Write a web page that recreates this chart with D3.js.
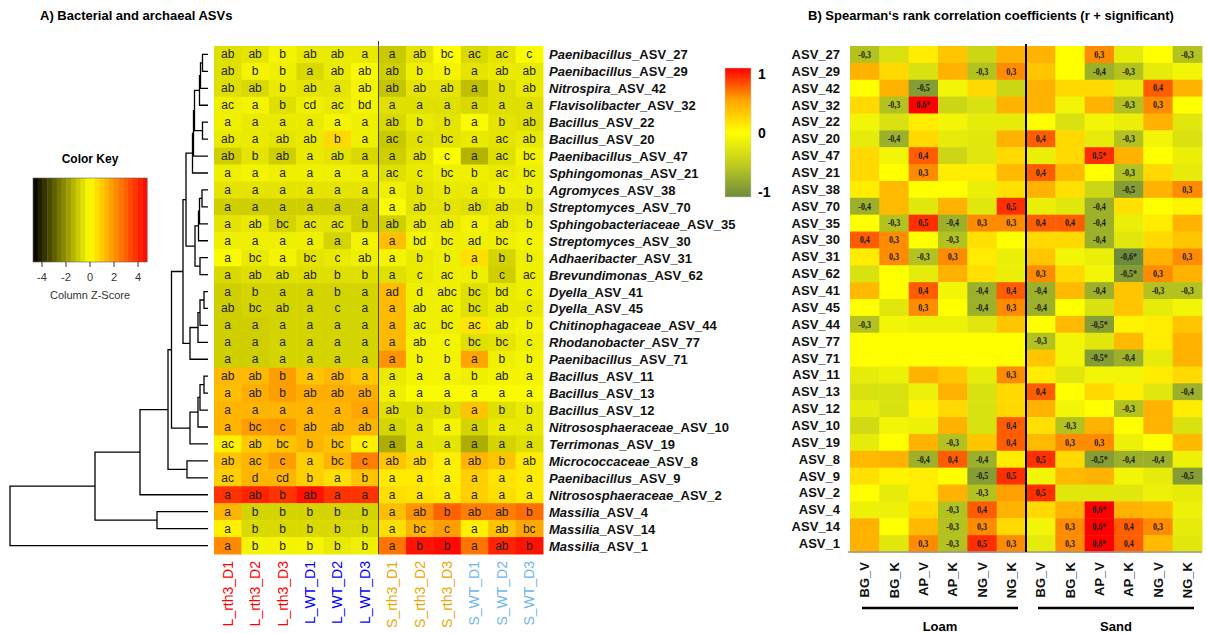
<!DOCTYPE html>
<html>
<head>
<meta charset="utf-8">
<script src="https://cdn.jsdelivr.net/npm/d3@7"></script>
<style>
  body { margin: 0; background: #fff; }
  text { font-family: "Liberation Sans", Arial, sans-serif; }
</style>
</head>
<body>
<div id="chart"></div>
<script>
const W = 1207, H = 633;

// ---- data ----
const genus = ["Paenibacillus","Paenibacillus","Nitrospira","Flavisolibacter","Bacillus","Bacillus","Paenibacillus","Sphingomonas","Agromyces","Streptomyces","Sphingobacteriaceae","Streptomyces","Adhaeribacter","Brevundimonas","Dyella","Dyella","Chitinophagaceae","Rhodanobacter","Paenibacillus","Bacillus","Bacillus","Bacillus","Nitrososphaeraceae","Terrimonas","Micrococcaceae","Paenibacillus","Nitrososphaeraceae","Massilia","Massilia","Massilia"];
const asv = ["ASV_27","ASV_29","ASV_42","ASV_32","ASV_22","ASV_20","ASV_47","ASV_21","ASV_38","ASV_70","ASV_35","ASV_30","ASV_31","ASV_62","ASV_41","ASV_45","ASV_44","ASV_77","ASV_71","ASV_11","ASV_13","ASV_12","ASV_10","ASV_19","ASV_8","ASV_9","ASV_2","ASV_4","ASV_14","ASV_1"];

const samples = ["L_rth3_D1","L_rth3_D2","L_rth3_D3","L_WT_D1","L_WT_D2","L_WT_D3","S_rth3_D1","S_rth3_D2","S_rth3_D3","S_WT_D1","S_WT_D2","S_WT_D3"];
const sampleGroup = ["Lr","Lr","Lr","Lw","Lw","Lw","Sr","Sr","Sr","Sw","Sw","Sw"];
const groupColor = {Lr: "#ff0000", Lw: "#0000ff", Sr: "#e8a800", Sw: "#6fb7ea"};

// column z-scores (left heatmap)
const zScores = [
 [-0.6,-0.5,-0.2,-0.4,-0.4,-0.4, -1.0,-0.5,0.0,-0.7,-0.5,-0.1],
 [-0.6,-0.2,-0.3,-0.7,-0.4,-0.1, -0.9,-0.3,-0.2,-0.5,-0.4,-0.4],
 [-0.6,-0.7,-0.4,-0.5,-0.5,-0.2, -1.1,-0.5,-0.5,-1.2,-0.6,-0.4],
 [-0.3,-0.2,-0.6,-0.3,-0.4,-0.2, -0.6,-0.6,-0.6,-0.7,-0.6,-0.6],
 [-0.3,-0.4,-0.4,-0.4,-0.2,-0.3, -0.7,-0.4,-0.5,-0.1,-0.5,-0.6],
 [-0.4,-0.4,-0.5,-0.4,0.7,-0.3, -1.0,-0.6,-0.5,-0.4,-0.5,-0.4],
 [-0.9,-0.5,-0.9,-0.4,-0.5,-0.7, -0.9,-0.5,-0.1,-1.4,-0.6,-0.2],
 [-0.3,-0.2,-0.3,-0.3,-0.3,-0.3, -0.6,-0.4,-0.3,-0.3,-0.4,-0.3],
 [-0.5,-0.5,-0.5,-0.5,-0.5,-0.5, -0.3,-0.5,-0.4,-0.4,-0.3,-0.3],
 [-0.9,-0.9,-0.9,-0.9,-0.9,-0.9, -0.1,-0.5,-0.5,-0.6,-0.5,-0.5],
 [-0.5,-0.4,-0.8,-0.5,-0.5,-0.9, -0.9,-0.4,-0.4,-0.2,-0.4,-0.3],
 [-0.3,-0.3,-0.3,-0.3,-0.8,-0.2, 1.2,-0.2,-0.3,-0.3,-0.3,-0.2],
 [-0.1,-0.4,-0.2,-0.5,-0.4,-0.3, -0.2,-0.4,-0.3,0.6,-0.8,-0.3],
 [-0.7,-0.6,-0.6,-0.6,-0.6,-0.6, -0.6,-0.4,-0.3,-0.3,-0.9,-0.3],
 [-0.9,-0.8,-0.8,-0.8,-0.8,-0.8, 1.3,-0.3,-0.3,-0.6,-0.4,-0.3],
 [-0.9,-0.8,-0.8,-0.8,-0.8,-0.8, 1.3,-0.3,-0.3,-0.6,-0.4,-0.4],
 [-0.9,-0.9,-0.8,-0.8,-0.8,-0.8, 1.3,-0.3,-0.3,0.5,-0.3,-0.2],
 [-0.9,-0.9,-0.8,-0.8,-0.8,-0.8, 1.3,-0.2,-0.2,-0.6,-0.5,-0.3],
 [-0.9,-0.9,-0.8,-0.8,-0.8,-0.8, 2.0,-0.2,-0.2,1.7,-0.3,-0.2],
 [1.3,1.3,1.8,1.1,1.3,1.0, -0.4,-0.2,-0.2,-0.3,-0.2,-0.2],
 [1.2,1.5,1.8,1.5,1.5,1.5, -0.3,-0.1,-0.1,-0.1,-0.1,-0.1],
 [1.4,1.4,1.4,1.4,1.4,1.7, -0.6,-0.6,-0.6,1.1,-0.6,-0.4],
 [1.4,1.8,1.9,1.4,1.4,1.4, -0.8,-0.5,-0.2,-0.8,-0.4,-0.4],
 [0.3,1.0,1.1,1.4,1.1,0.3, -1.5,-0.5,-0.5,-1.5,-0.8,-0.6],
 [1.1,1.4,1.8,0.9,1.4,2.4, 1.1,0.7,0.3,1.4,1.1,0.4],
 [0.9,1.4,1.4,0.9,0.6,1.1, 0.4,0.4,0.3,0.9,0.5,0.4],
 [3.8,4.1,3.8,4.4,3.8,3.8, 0.6,0.5,0.4,0.9,0.6,0.4],
 [1.4,-0.8,-0.8,-0.8,-0.8,-0.8, 1.2,2.0,2.9,2.4,2.4,2.7],
 [0.3,-0.7,-0.7,-0.7,-0.7,-0.7, 0.6,1.4,1.8,0.3,1.1,1.6],
 [2.2,-0.2,-0.2,-0.2,-0.4,-0.3, 2.6,4.4,4.6,2.6,4.1,4.4]
];

// significance letters (left heatmap)
const letters = [
 "ab ab b ab ab a a ab bc ac ac c",
 "ab b b a ab ab ab b b a ab ab",
 "ab ab b ab a ab ab ab ab a b ab",
 "ac a b cd ac bd a a a a a a",
 "a a a a a a ab b b a b ab",
 "ab a ab ab b a ac c bc a ac ab",
 "ab b ab a ab a a ab c a ac bc",
 "a a a a a a ac c bc b ac bc",
 "a a a a a a a b b a b b",
 "a a a a a a a ab b ab ab b",
 "a ab bc ac ac b ab ab ab a ab b",
 "a a a a a a a bd bc ad bc c",
 "a bc a bc c ab a b b a b b",
 "a ab ab ab b b a c ac b c ac",
 "a b a a b a ad d abc bc bd c",
 "ab bc ab a c a a ab ac bc ab c",
 "a a a a a a a ac bc ac ab b",
 "a a a a a a a ab c bc bc c",
 "a a a a a a a b b a b b",
 "ab ab b a ab a a a a b ab a",
 "a ab b ab ab ab a a a a a a",
 "a a a a a a ab b b a b b",
 "a bc c ab ab ab a a a a a a",
 "ac ab bc b bc c a a a a a a",
 "ab ac c a bc c ab ab a ab b ab",
 "ac d cd b a b a a a a a a",
 "a ab b ab a a a a a a a a",
 "a b b b b b a ab b ab ab b",
 "a b b b b b a bc c a ab bc",
 "a b b b b b a b b a ab b"
].map(s => s.split(" "));

// Spearman r (right heatmap)
const treatments = ["BG_V","BG_K","AP_V","AP_K","NG_V","NG_K","BG_V","BG_K","AP_V","AP_K","NG_V","NG_K"];
const soils = ["Loam","Sand"];
const rho = [
 [-0.3,-0.15,0.05,0.15,-0.2,0.2, 0.2,0,0.3,-0.1,0,-0.3],
 [0.2,0.1,-0.15,0.2,-0.3,0.3, 0.15,0,-0.4,-0.3,-0.1,-0.05],
 [0,0.2,-0.5,-0.05,0.1,-0.2, 0.2,0.1,0.1,-0.1,0.4,0.2],
 [0.1,-0.3,0.6,-0.2,-0.15,0.2, 0.2,-0.05,0.2,-0.3,0.3,0],
 [-0.05,-0.15,0.05,-0.05,-0.1,-0.1, 0,-0.15,-0.05,-0.08,0.2,-0.12],
 [-0.1,-0.4,0.1,-0.1,-0.12,0.2, 0.4,0.1,-0.1,-0.3,-0.05,-0.15],
 [0.1,-0.05,0.4,-0.2,-0.12,0.1, -0.08,0.1,0.5,0.2,0,-0.08],
 [0.1,0,0.3,0.05,0.05,0.18, 0.4,0.18,0,-0.3,0.1,-0.1],
 [0.05,0.18,0,0,-0.08,0.08, 0.2,0.08,-0.2,-0.5,0.2,0.3],
 [-0.4,0.18,-0.12,0.2,-0.12,0.5, -0.08,-0.12,-0.4,0.08,0,0.03],
 [0,-0.3,0.5,-0.4,0.3,0.3, 0.4,0.4,-0.4,-0.08,0.05,0.2],
 [0.4,0.3,0,-0.3,0.08,0, 0.1,0.1,-0.4,-0.12,0.1,0.15],
 [0.05,0.3,-0.3,0.3,0.05,-0.08, 0.15,-0.05,-0.08,-0.6,0.2,0.3],
 [-0.15,0,-0.1,0.2,0.08,-0.08, 0.3,0.1,-0.05,-0.5,0.3,0.2],
 [0.18,0,0.4,-0.05,-0.4,0.4, -0.4,0.18,-0.4,0.15,-0.3,-0.3],
 [0,-0.12,0.3,0,-0.4,0.3, -0.4,0,-0.15,0.15,-0.1,-0.05],
 [-0.3,-0.05,-0.07,-0.07,-0.12,0.15, 0,0.18,-0.5,0.03,0.05,0.15],
 [0,0,0,0,0,0, -0.3,-0.05,-0.12,0.18,0.05,0.2],
 [0,0,0,0,0,0, 0.15,-0.05,-0.5,-0.4,-0.1,0.2],
 [-0.1,-0.07,0.2,0.15,-0.1,0.3, 0.05,-0.12,-0.05,-0.05,0.05,0.1],
 [-0.15,-0.15,-0.07,0.2,-0.15,0.1, 0.4,0,0.1,0.04,-0.12,-0.4],
 [-0.1,-0.15,0.03,0.1,-0.15,0.1, 0.2,-0.05,0,-0.3,0.2,0.05],
 [-0.18,-0.05,-0.07,0.2,-0.15,0.4, 0.08,-0.3,0.2,0,0.2,-0.15],
 [-0.1,0,0.2,-0.3,0.15,0.4, 0.18,0.3,0.3,-0.07,0,0.18],
 [0.18,0.2,-0.4,0.4,-0.4,0.05, 0.5,0.1,-0.5,-0.4,-0.4,-0.07],
 [0.08,0.03,0.05,0,-0.5,0.5, -0.05,0.18,0.2,-0.05,-0.1,-0.5],
 [0,-0.1,0.05,0.2,-0.3,0.25, 0.5,-0.12,-0.12,-0.12,-0.07,-0.1],
 [-0.07,-0.07,0.1,-0.3,0.4,0.2, 0.1,0.2,0.6,0.2,0.18,-0.07],
 [0.2,0,0.18,-0.3,0.3,0.1, -0.05,0.3,0.6,0.4,0.3,-0.1],
 [0.2,-0.12,0.3,-0.3,0.5,0.3, -0.1,0.3,0.6,0.4,0.18,-0.12]
];
// significant cells (row, column)
const sigCells = ["3,2","6,8","12,9","13,9","16,8","18,8","24,8","27,8","28,8","29,8"];

const keyTicks = [-4, -2, 0, 2, 4];
const rhoTicks = [-1, 0, 1];

// row dendrogram: leaves are row indices, h = merge height
const L = i => ({leaf: i});
const M = (a, b, h) => ({children: [a, b], h: h});
const A1 = M(M(M(M(M(M(L(0), L(1), 5.5), L(2), 7.5), L(3), 8.5), M(L(4), L(5), 5.5), 13.5), L(6), 14.5), L(7), 15.5);
const A2 = M(M(M(M(L(8), L(9), 6), L(10), 8.5), L(11), 9.5), M(L(12), L(13), 8), 13);
const B  = M(M(M(M(L(14), L(15), 4), L(16), 8), L(17), 10), L(18), 18);
const C  = M(M(M(M(L(19), L(20), 4), L(21), 8), L(22), 10), L(23), 18);
const tree = M(M(M(M(M(M(M(A1, A2, 22), B, 25), C, 36.5), M(L(24), L(25), 21), 40), L(26), 68), M(L(27), L(28), 51), 113), L(29), 198);

// ---- svg ----
const svg = d3.select("#chart").append("svg").attr("width", W).attr("height", H);

svg.append("text").attr("x", 40).attr("y", 20)
  .attr("font-size", "13px").attr("font-weight", "bold")
  .text("A) Bacterial and archaeal ASVs");
svg.append("text").attr("x", 808).attr("y", 20)
  .attr("font-size", "13px").attr("font-weight", "bold")
  .text("B) Spearman\u2018s rank correlation coefficients (r + significant)");

// ---- left heatmap ----
const zColor = d3.scaleLinear().domain([-4.75, 0, 4.75]).range(["#000000", "#ffff00", "#ff0000"]).clamp(true);
const xL = d3.scaleBand().domain(d3.range(12)).range([214, 543]);
const yL = d3.scaleBand().domain(d3.range(30)).range([46, 554]);

const cellsL = [];
zScores.forEach((row, i) => row.forEach((v, j) => cellsL.push({i, j, v, t: letters[i][j]})));

const gL = svg.append("g");
gL.selectAll("rect").data(cellsL).enter().append("rect")
  .attr("x", d => xL(d.j)).attr("y", d => yL(d.i))
  .attr("width", xL.bandwidth() + 0.5).attr("height", yL.bandwidth() + 0.5)
  .attr("fill", d => zColor(d.v));
gL.selectAll("text").data(cellsL).enter().append("text")
  .attr("x", d => xL(d.j) + xL.bandwidth() / 2)
  .attr("y", d => yL(d.i) + yL.bandwidth() / 2)
  .attr("text-anchor", "middle").attr("dominant-baseline", "central")
  .attr("font-size", "12px").attr("fill", "#222")
  .text(d => d.t);

gL.append("line")
  .attr("x1", xL(6)).attr("x2", xL(6)).attr("y1", 41).attr("y2", 554)
  .attr("stroke", "#444").attr("stroke-width", 1);

// row labels
const rowLab = svg.append("g").selectAll("text").data(genus).enter().append("text")
  .attr("x", 549).attr("y", (d, i) => yL(i) + yL.bandwidth() / 2)
  .attr("dominant-baseline", "central")
  .attr("font-size", "13px").attr("font-weight", "bold").attr("fill", "#111");
rowLab.append("tspan").attr("font-style", "italic").text(d => d);
rowLab.append("tspan").text((d, i) => "_" + asv[i]);

// column labels
svg.append("g").selectAll("text").data(samples).enter().append("text")
  .attr("transform", (d, j) => `translate(${xL(j) + xL.bandwidth() / 2},561) rotate(-90)`)
  .attr("text-anchor", "end").attr("dominant-baseline", "central")
  .attr("font-size", "14px")
  .attr("fill", (d, j) => groupColor[sampleGroup[j]])
  .text(d => d);

// ---- dendrogram ----
const dx = d3.scaleLinear().domain([0, 198]).range([208, 10]);
const dg = svg.append("g").attr("stroke", "#000").attr("stroke-width", 1.3).attr("fill", "none");
function nodeY(n) {
  if (n.leaf !== undefined) return yL(n.leaf) + yL.bandwidth() / 2;
  if (n.y === undefined) n.y = (nodeY(n.children[0]) + nodeY(n.children[1])) / 2;
  return n.y;
}
function nodeX(n) { return n.leaf !== undefined ? dx(0) : dx(n.h); }
function drawNode(n) {
  if (n.leaf !== undefined) return;
  const [a, b] = n.children;
  const x = dx(n.h);
  dg.append("path").attr("d",
    `M${nodeX(a)},${nodeY(a)}H${x}V${nodeY(b)}H${nodeX(b)}`);
  drawNode(a); drawNode(b);
}
drawNode(tree);

// ---- color key (left) ----
const keyX = d3.scaleLinear().domain([-4.75, 4.75]).range([33, 147]);
const key = svg.append("g");
const bands = d3.range(24).map(k => -4.75 + k * 9.5 / 24);
key.selectAll("rect").data(bands).enter().append("rect")
  .attr("x", d => keyX(d)).attr("y", 178)
  .attr("width", keyX(9.5 / 24) - keyX(0) + 0.4).attr("height", 84)
  .attr("fill", d => zColor(d + 9.5 / 48));
key.append("rect").attr("x", 33).attr("y", 178).attr("width", 114).attr("height", 84)
  .attr("fill", "none").attr("stroke", "#666").attr("stroke-width", 0.6);
key.append("text").attr("x", 90).attr("y", 163).attr("text-anchor", "middle")
  .attr("font-size", "12px").attr("font-weight", "bold").text("Color Key");
key.selectAll("line.t").data(keyTicks).enter().append("line")
  .attr("x1", d => keyX(d)).attr("x2", d => keyX(d)).attr("y1", 262).attr("y2", 267)
  .attr("stroke", "#333");
key.selectAll("text.t").data(keyTicks).enter().append("text")
  .attr("x", d => keyX(d)).attr("y", 281).attr("text-anchor", "middle")
  .attr("font-size", "11px").attr("fill", "#333").text(d => d);
key.append("text").attr("x", 90).attr("y", 299).attr("text-anchor", "middle")
  .attr("font-size", "11px").attr("fill", "#333").text("Column Z-Score");

// ---- right heatmap ----
const rColor = d3.scaleLinear().domain([-0.6, -0.3, 0, 0.3, 0.6])
  .range(["#6e8b3d", "#b3c21f", "#ffff00", "#ff8c00", "#ff0000"]).clamp(true);
const xR = d3.scaleBand().domain(d3.range(12)).range([850, 1202]);
const yR = d3.scaleBand().domain(d3.range(30)).range([46, 552]);

const cellsR = [];
rho.forEach((row, i) => row.forEach((v, j) => cellsR.push({i, j, v, s: sigCells.includes(i + "," + j)})));

const gR = svg.append("g");
gR.selectAll("rect").data(cellsR).enter().append("rect")
  .attr("x", d => xR(d.j)).attr("y", d => yR(d.i))
  .attr("width", xR.bandwidth() + 0.5).attr("height", yR.bandwidth() + 0.5)
  .attr("fill", d => rColor(d.v));
gR.selectAll("text").data(cellsR.filter(d => Math.abs(d.v) >= 0.3)).enter().append("text")
  .attr("transform", d => `translate(${xR(d.j) + xR.bandwidth() / 2},${yR(d.i) + yR.bandwidth() / 2}) scale(0.8,1)`)
  .attr("text-anchor", "middle").attr("dominant-baseline", "central")
  .style("font-family", "'Liberation Serif', 'Times New Roman', serif")
  .attr("font-size", "10px").attr("font-weight", "bold").attr("fill", "#1a1a1a")
  .text(d => d.v.toFixed(1).replace(".", ",") + (d.s ? "*" : ""));

gR.append("line").attr("x1", 848).attr("x2", 1202).attr("y1", 552).attr("y2", 552)
  .attr("stroke", "#999").attr("stroke-width", 1.5);
gR.append("line").attr("x1", xR(6)).attr("x2", xR(6)).attr("y1", 44).attr("y2", 552)
  .attr("stroke", "#000").attr("stroke-width", 2);

svg.append("g").selectAll("text").data(asv).enter().append("text")
  .attr("x", 840).attr("y", (d, i) => yR(i) + yR.bandwidth() / 2)
  .attr("text-anchor", "end").attr("dominant-baseline", "central")
  .attr("font-size", "13px").attr("font-weight", "bold").attr("fill", "#111")
  .text(d => d);

svg.append("g").selectAll("text").data(treatments).enter().append("text")
  .attr("transform", (d, j) => `translate(${xR(j) + xR.bandwidth() / 2},562) rotate(-90)`)
  .attr("text-anchor", "end").attr("dominant-baseline", "central")
  .attr("font-size", "13px").attr("font-weight", "bold").attr("fill", "#111")
  .text(d => d);

soils.forEach((s, k) => {
  const x0 = xR(k * 6) + 12, x1 = xR(k * 6 + 5) + xR.bandwidth() - 8;
  svg.append("line").attr("x1", x0).attr("x2", x1).attr("y1", 608).attr("y2", 608)
    .attr("stroke", "#000").attr("stroke-width", 2.5);
  svg.append("text").attr("x", (x0 + x1) / 2).attr("y", 631).attr("text-anchor", "middle")
    .attr("font-size", "13px").attr("font-weight", "bold").text(s);
});

// ---- right legend ----
const legY = d3.scaleLinear().domain([-1, 1]).range([192, 74]);
const legColor = d3.scaleLinear().domain([-1, -0.5, 0, 0.5, 1])
  .range(["#6e8b3d", "#bfcb1f", "#ffff00", "#ffa500", "#ff0000"]);
const grad = svg.append("defs").append("linearGradient").attr("id", "rgrad")
  .attr("x1", "0%").attr("y1", "100%").attr("x2", "0%").attr("y2", "0%");
d3.range(-1, 1.01, 0.25).forEach(v => {
  grad.append("stop").attr("offset", ((v + 1) / 2 * 100) + "%").attr("stop-color", legColor(v));
});
svg.append("rect").attr("x", 725).attr("y", 68).attr("width", 26).attr("height", 129)
  .attr("fill", "url(#rgrad)").attr("stroke", "#ccc").attr("stroke-width", 0.5);
svg.append("g").selectAll("text").data(rhoTicks).enter().append("text")
  .attr("x", 758).attr("y", d => legY(d)).attr("dominant-baseline", "central")
  .attr("font-size", "14px").attr("font-weight", "bold").text(d => d);
</script>
</body>
</html>
